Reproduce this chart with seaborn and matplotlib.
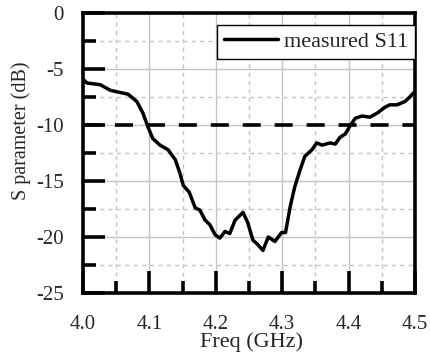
import matplotlib
matplotlib.use("Agg")
import matplotlib.pyplot as plt
from matplotlib.ticker import MultipleLocator
import seaborn as sns
import pandas as pd

freq = [4.000, 4.006, 4.026, 4.041, 4.056, 4.068, 4.081, 4.090, 4.098, 4.105,
        4.116, 4.128, 4.139, 4.146, 4.151, 4.160, 4.169, 4.176, 4.184, 4.191,
        4.199, 4.206, 4.214, 4.221, 4.229, 4.241, 4.248, 4.256, 4.262, 4.271,
        4.279, 4.289, 4.299, 4.305, 4.312, 4.319, 4.327, 4.334, 4.345, 4.352,
        4.360, 4.372, 4.380, 4.387, 4.395, 4.402, 4.410, 4.420, 4.432, 4.444,
        4.455, 4.462, 4.473, 4.485, 4.492, 4.500]
s11 = [-5.9, -6.25, -6.4, -6.9, -7.1, -7.25, -7.9, -8.9, -10.2, -11.2,
       -11.8, -12.2, -13.1, -14.3, -15.4, -16.0, -17.4, -17.6, -18.5, -18.9,
       -19.8, -20.1, -19.5, -19.7, -18.5, -17.8, -18.7, -20.3, -20.6, -21.2,
       -20.0, -20.4, -19.6, -19.6, -17.3, -15.5, -14.0, -12.8, -12.2, -11.6,
       -11.8, -11.6, -11.7, -11.1, -10.8, -10.1, -9.4, -9.2, -9.3, -8.9,
       -8.4, -8.2, -8.2, -7.9, -7.5, -7.0]
threshold = -10
series_label = "measured S11"
x_ticks = [4.0, 4.1, 4.2, 4.3, 4.4, 4.5]
x_tick_labels = ["4.0", "4.1", "4.2", "4.3", "4.4", "4.5"]
y_ticks = [0, -5, -10, -15, -20, -25]
y_tick_labels = ["0", "-5", "-10", "-15", "-20", "-25"]

sns.set_style("white")
plt.rcParams["font.family"] = ["Liberation Serif", "DejaVu Serif"]
plt.rcParams["axes.unicode_minus"] = False
plt.rcParams["lines.scale_dashes"] = False

df = pd.DataFrame({"freq": freq, "s11": s11})

fig = plt.figure(figsize=(4.30, 3.57), dpi=100)
ax = fig.add_axes([83 / 430, 1 - 293 / 357, (415 - 83) / 430, (293 - 13) / 357])

ax.set_xlim(4.0, 4.5)
ax.set_ylim(-25, 0)

ax.xaxis.set_minor_locator(MultipleLocator(0.05))
ax.yaxis.set_minor_locator(MultipleLocator(2.5))
ax.set_xticks(x_ticks)
ax.set_xticklabels(x_tick_labels)
ax.set_yticks(y_ticks)
ax.set_yticklabels(y_tick_labels)

ax.grid(which="major", color="#c4c4c4", linestyle="-", linewidth=1.0, zorder=0)
ax.grid(which="minor", color="#c4c4c4", linestyle=(0, (3, 3)), linewidth=1.0, zorder=0)
ax.set_axisbelow(True)

sns.lineplot(data=df, x="freq", y="s11", ax=ax, color="black", linewidth=2.5,
             label=series_label, zorder=3)

hl = ax.axhline(threshold, color="black", linewidth=2.6, zorder=2)
hl.set_dashes((13, 10))

for s in ax.spines.values():
    s.set_linewidth(2.6)
    s.set_color("black")
    s.set_visible(True)
    s.set_zorder(5)

ax.tick_params(axis="both", which="major", direction="in", length=16, width=2.6,
               labelsize=15, color="black", bottom=True, left=True, top=False, right=False)
ax.tick_params(axis="both", which="minor", direction="in", length=9, width=2.6,
               color="black", bottom=True, left=True, top=False, right=False)
ax.tick_params(axis="x", which="major", pad=16)
ax.tick_params(axis="y", which="major", pad=14)

ax.set_xlabel("Freq (GHz)", fontsize=16)
ax.set_ylabel("S parameter (dB)", fontsize=14.5)
ax.xaxis.set_label_coords(0.509, -0.141)
ax.yaxis.set_label_coords(-0.157, 0.579)

leg = ax.legend(loc="upper right", bbox_to_anchor=(1.0, 0.957), fontsize=16,
                frameon=True, fancybox=False, handlelength=2.45, handletextpad=0.27,
                borderpad=0.3, borderaxespad=0.0)
leg.get_frame().set_edgecolor("black")
leg.get_frame().set_linewidth(1.0)
leg.get_frame().set_alpha(1)
for line in leg.get_lines():
    line.set_linewidth(2.5)

fig.savefig("out.png", dpi=100)
